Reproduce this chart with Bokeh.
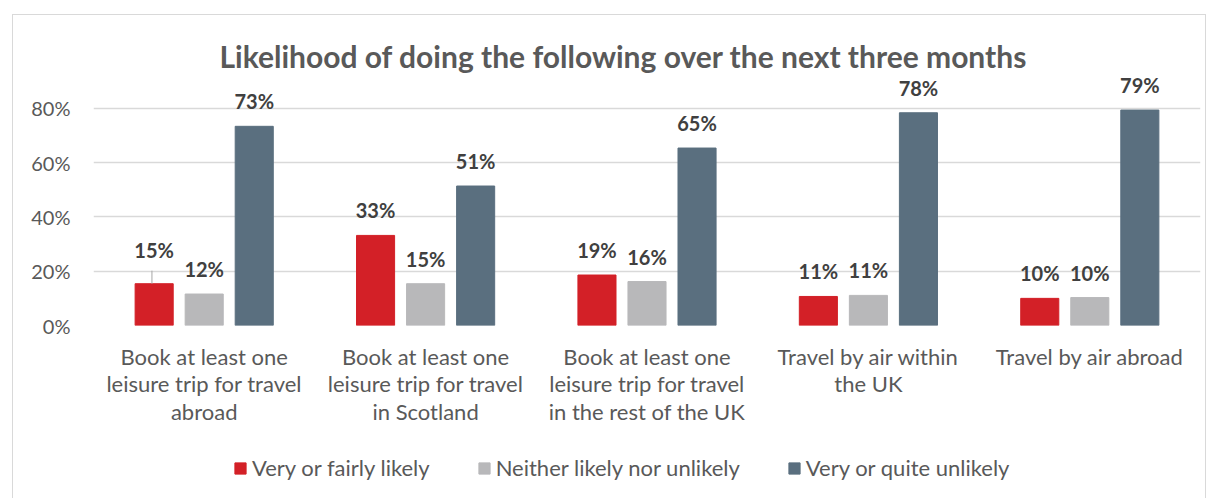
from bokeh.plotting import figure
from bokeh.layouts import column
from bokeh.models import (ColumnDataSource, FactorRange, Range1d, Legend, LegendItem,
                          NumeralTickFormatter, FixedTicker)
from bokeh.transform import dodge
from bokeh.core.properties import value
from bokeh.embed import file_html
from bokeh.resources import INLINE

title_text = "Likelihood of doing the following over the next three months"
categories = [
    "Book at least one\nleisure trip for travel\nabroad",
    "Book at least one\nleisure trip for travel\nin Scotland",
    "Book at least one\nleisure trip for travel\nin the rest of the UK",
    "Travel by air within\nthe UK",
    "Travel by air abroad",
]
series_names = ["Very or fairly likely", "Neither likely nor unlikely", "Very or quite unlikely"]
very_likely = [0.154, 0.332, 0.186, 0.107, 0.100]
neither = [0.116, 0.154, 0.162, 0.111, 0.103]
unlikely = [0.734, 0.514, 0.654, 0.784, 0.794]
y_ticks = [0.0, 0.2, 0.4, 0.6, 0.8]

colors = ["#D32027", "#B8B8BA", "#5A6F7F"]
FONT = "Lato"
TXT = "#595959"
offsets = [-0.226, 0.0, 0.226]
bar_w = 0.172

p = figure(x_range=FactorRange(*categories, range_padding=0), y_range=Range1d(0, 0.925),
           width=1192, height=425, output_backend="svg", toolbar_location=None,
           min_border_left=80, min_border_right=5, min_border_top=59, min_border_bottom=115)

p.title.text = title_text
p.title.align = "left"
p.title.offset = 126
p.title.text_font = FONT
p.title.text_font_size = "30px"
p.title.text_color = TXT
p.title.text_font_style = "bold"
p.title.standoff = 1

# legend strip below the chart: same series, drawn in a window that shows only the legend
p2 = figure(width=1192, height=58, output_backend="svg", toolbar_location=None,
            x_axis_type=None, y_axis_type=None, x_range=p.x_range, y_range=Range1d(1, 2),
            min_border=0)
p2.grid.visible = False
p2.outline_line_color = None

series = [very_likely, neither, unlikely]
leg_r = []
for i, (vals, col) in enumerate(zip(series, colors)):
    yoff = [-25] * len(vals)
    if i == 0:
        yoff[0] = -34
    src = ColumnDataSource(dict(cat=categories, v=vals,
                                lab=[f"{round(v * 100)}%" for v in vals], yoff=yoff))
    p.vbar(x=dodge("cat", offsets[i], range=p.x_range), top="v", width=bar_w, source=src,
           fill_color=col, line_color=col)
    p.text(x=dodge("cat", offsets[i], range=p.x_range), y="v", text="lab", source=src,
           y_offset="yoff", text_align="center", text_baseline="middle",
           text_font=value(FONT), text_font_style="bold", text_font_size="20px",
           text_color="#404040")
    leg_r.append(p2.vbar(x=dodge("cat", offsets[i], range=p.x_range), top="v", width=bar_w,
                         source=src, fill_color=col, line_color=col))

# leader line for the moved first label
lead = ColumnDataSource(dict(cat=categories[:1], v0=very_likely[:1],
                             v1=[very_likely[0] + 0.048]))
p.segment(x0=dodge("cat", offsets[0] - 0.01, range=p.x_range), y0="v0",
          x1=dodge("cat", offsets[0] - 0.01, range=p.x_range), y1="v1",
          source=lead, line_color="#A6A6A6", line_width=1)

p.xgrid.visible = False
p.ygrid.grid_line_color = "#D9D9D9"
p.ygrid.grid_line_width = 1.5
p.outline_line_color = None

p.yaxis.ticker = FixedTicker(ticks=y_ticks)
p.yaxis.formatter = NumeralTickFormatter(format="0%")
p.yaxis.axis_line_color = None
p.yaxis.major_tick_line_color = None
p.yaxis.major_tick_out = 0
p.yaxis.minor_tick_line_color = None
p.yaxis.major_label_text_font = FONT
p.yaxis.major_label_text_font_size = "20px"
p.yaxis.major_label_text_color = TXT
p.yaxis.major_label_standoff = 23

p.xaxis.axis_line_color = None
p.xaxis.major_tick_line_color = None
p.xaxis.major_tick_out = 0
p.xaxis.major_label_text_font = FONT
p.xaxis.major_label_text_font_size = "22px"
p.xaxis.major_label_text_color = TXT
p.xaxis.major_label_text_line_height = 1.02
p.xaxis.major_label_standoff = 17

legend = Legend(items=[LegendItem(label=n, renderers=[r]) for n, r in zip(series_names, leg_r)],
                orientation="horizontal", location=(140, 17),
                label_text_font=FONT, label_text_font_size="22px", label_text_color=TXT,
                glyph_width=14, glyph_height=14, spacing=47, label_standoff=5,
                border_line_color=None, background_fill_alpha=0, margin=0, padding=0)
p2.add_layout(legend, "center")

layout = column(p, p2, spacing=0, margin=(14, 0, 0, 12),
                styles={"border-left": "1px solid #D9D9D9", "border-top": "1px solid #D9D9D9",
                        "border-right": "1px solid #D9D9D9"})

open("out.html", "w").write(file_html(layout, INLINE))
